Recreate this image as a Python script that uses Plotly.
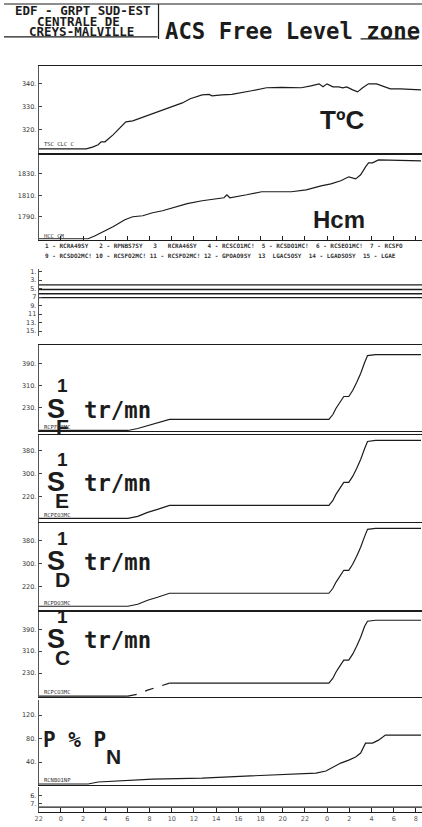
import plotly.graph_objects as go

W, H = 422, 827

# ---------------- data (hours from start of record, values in axis units) ----------------
HOUR_TICKS = list(range(0, 36, 2))
HOUR_LABELS = ["22", "0", "2", "4", "6", "8", "10", "12", "14", "16", "18", "20",
               "22", "0", "2", "4", "6", "8"]
X_END = 34.55

T_HOURS = [0, 4.29, 4.91, 5.36, 5.63, 5.98, 6.70, 7.86, 8.48, 10.27, 11.61, 12.95, 13.66,
           14.73, 15.36, 15.63, 16.52, 17.41, 19.2, 20.54, 21.88, 23.66, 24.55, 25.27,
           25.63, 25.98, 26.52, 27.05, 27.41, 27.77, 28.3, 28.75, 29.2, 29.73, 30.45,
           30.98, 31.7, 32.59, 34.46]
T_VALUES = [311.7, 311.7, 312.6, 313.5, 314.8, 314.8, 317.8, 323.5, 323.9, 327.0, 329.1,
            331.7, 333.5, 335.2, 335.4, 334.8, 335.2, 335.4, 337.0, 338.3, 338.5, 338.3,
            339.1, 340.0, 338.7, 340.0, 338.7, 338.7, 338.3, 338.7, 337.4, 336.5, 338.3,
            340.0, 340.0, 339.1, 337.8, 337.8, 337.4]

H_HOURS = [0, 4.46, 5.09, 5.80, 6.70, 7.77, 8.48, 9.38, 10.27, 11.16, 12.05, 13.39, 14.73,
           16.07, 16.70, 16.96, 17.23, 18.75, 20.09, 22.77, 24.11, 25.45, 26.34, 27.23,
           27.95, 28.57, 29.02, 29.46, 29.73, 30.09, 30.63, 34.46]
H_VALUES = [1769.5, 1769.5, 1772.3, 1776.0, 1780.7, 1787.2, 1790.0, 1790.9, 1793.7, 1795.6,
            1798.4, 1802.2, 1804.9, 1806.7, 1807.7, 1810.5, 1807.7, 1810.5, 1813.3, 1813.3,
            1815.1, 1818.8, 1820.7, 1823.5, 1827.2, 1825.3, 1829.1, 1836.5, 1840.2, 1840.2,
            1843.0, 1842.1]

DIGITAL_LEVELS = [4.1, 5.2, 6.2, 7.1]

S_HOURS = [0, 8.04, 8.93, 9.82, 10.71, 11.79, 26.16, 26.52, 26.79, 27.14, 27.5, 27.95,
           28.3, 28.66, 29.02, 29.38, 29.64, 30.36, 34.46]
SF_VALUES = [146.4, 146.4, 153.6, 164.5, 175.5, 186.4, 186.4, 204.5, 226.4, 248.2, 270.0,
             270.0, 291.8, 320.9, 353.6, 393.6, 419.1, 422.7, 422.7]
SE_VALUES = [143.5, 143.5, 150.4, 164.3, 174.8, 188.7, 188.7, 206.1, 226.9, 247.8, 268.7,
             268.7, 289.6, 317.4, 348.7, 387.0, 411.3, 414.8, 414.8]
SD_VALUES = [150.4, 150.4, 157.4, 171.3, 181.7, 195.7, 195.7, 213.0, 233.9, 254.8, 275.7,
             275.7, 296.5, 324.3, 355.7, 393.9, 418.3, 421.7, 421.7]
SC_VALUES = [146.4, 146.4, 153.6, 168.2, 179.1, 193.6, 193.6, 211.8, 233.6, 255.5, 277.3,
             277.3, 299.1, 328.2, 360.9, 400.9, 419.1, 422.7, 422.7]

P_HOURS = [0, 4.46, 5.36, 6.70, 10.27, 14.73, 19.20, 21.88, 25.0, 25.89, 26.61, 27.23,
           27.95, 28.57, 29.02, 29.46, 30.09, 30.63, 31.25, 34.46]
P_VALUES = [2.6, 2.6, 6.0, 7.7, 11.1, 12.8, 16.2, 17.9, 21.3, 24.7, 31.5, 38.3, 43.4, 48.5,
            55.3, 72.3, 72.3, 77.4, 86.0, 86.0]

LOWER_LEVEL = 7.5

LEGEND_ROW1 = ("1 - RCRA49SY   2 - RPNBS7SY   3   RCRA46SY   4 - RCSCO1MC!  "
               "5 - RCSDO1MC!  6 - RCSEO1MC!  7 - RCSFO")
LEGEND_ROW2 = ("9 - RCSDO2MC! 10 - RCSFO2MC! 11 - RCSFO2MC! 12 - GPOAO9SY  "
               "13  LGAC5OSY  14 - LGADSOSY  15 - LGAE")

# ---------------- layout helpers ----------------
def X(px):
    return px / W


def Y(py):
    return 1 - py / H


INK = "#1c1c1c"

# panel: (top px, bottom px, range, tickvals, ticktext, frame)
panels = [
    (65, 152, [310.0, 347.8], [320, 330, 340], ["320.", "330.", "340."], "box"),
    (154, 239, [1768.6, 1847.7], [1790, 1810, 1830], ["1790.", "1810.", "1830."], "box"),
    (268, 335, [16.06, 0.29], [1, 3, 5, 7, 9, 11, 13, 15],
     ["1.", "3.", "5.", "7", "9.", "11", "13.", "15."], "none"),
    (344, 431, [142.7, 459.1], [230, 310, 390], ["230.", "310.", "390."], "box"),
    (435, 522, [129.6, 432.2], [220, 300, 380], ["220.", "300.", "380."], "box"),
    (523, 610, [136.5, 439.1], [220, 300, 380], ["220.", "300.", "380."], "box"),
    (612, 697, [142.7, 451.8], [230, 310, 390], ["230.", "310.", "390."], "box"),
    (700, 785, [0.85, 145.5], [40, 80, 120], ["40.", "80.", "120."], "bottom"),
    (787, 812, [8.125, 4.875], [6, 7], ["6.", "7."], "axis"),
]

fig = go.Figure()
layout = dict(
    width=W, height=H, margin=dict(l=0, r=0, t=0, b=0),
    paper_bgcolor="white", plot_bgcolor="white", showlegend=False,
)

tickfont = dict(family="DejaVu Sans", size=6.5, color="#333")
for i, (top, bot, rng, tv, tt, frame) in enumerate(panels, start=1):
    xa = dict(domain=[X(35), 1.0], range=[0, X_END], showgrid=False, zeroline=False,
              showticklabels=False, anchor="y" if i == 1 else f"y{i}",
              linecolor=INK, linewidth=1)
    if i > 1:
        xa["matches"] = "x"
    if frame == "box":
        xa.update(showline=True, mirror=True)
    elif frame == "bottom":
        xa.update(showline=True)
    elif frame == "axis":
        xa.update(showline=True, ticks="inside", ticklen=4, tickcolor=INK,
                  tickvals=HOUR_TICKS, ticktext=HOUR_LABELS, showticklabels=True,
                  tickfont=dict(family="DejaVu Sans", size=6.5, color="#555"))
    else:
        xa.update(showline=False)
    if i == 2:
        xa.update(ticks="inside", ticklen=4, tickcolor=INK, tickvals=HOUR_TICKS)
    ya = dict(domain=[Y(bot), Y(top)], range=rng, showgrid=False, zeroline=False,
              anchor="x" if i == 1 else f"x{i}", showline=True, linecolor="#555",
              linewidth=1, ticks="inside", ticklen=3, tickcolor="#444",
              tickvals=tv, ticktext=tt, tickfont=tickfont)
    layout["xaxis" if i == 1 else f"xaxis{i}"] = xa
    layout["yaxis" if i == 1 else f"yaxis{i}"] = ya


def add(xs, ys, i, dash="solid", width=1.2):
    fig.add_trace(go.Scatter(
        x=xs, y=ys, mode="lines", line=dict(color=INK, width=width, dash=dash),
        xaxis="x" if i == 1 else f"x{i}", yaxis="y" if i == 1 else f"y{i}",
        hoverinfo="skip"))


add(T_HOURS, T_VALUES, 1)
add(H_HOURS, H_VALUES, 2)
for lv in DIGITAL_LEVELS:
    add([0, X_END], [lv, lv], 3, width=1.3)
add(S_HOURS, SF_VALUES, 4)
add(S_HOURS, SE_VALUES, 5)
add(S_HOURS, SD_VALUES, 6)
# S1C: first ramp drawn dashed like the trace in the record
add(S_HOURS[:2], SC_VALUES[:2], 7)
add(S_HOURS[1:6], SC_VALUES[1:6], 7, dash="dash")
add(S_HOURS[5:], SC_VALUES[5:], 7)
add(P_HOURS, P_VALUES, 8)
add([0, X_END], [LOWER_LEVEL, LOWER_LEVEL], 9)

# ---------------- text ----------------
ann = []


def text(s, x, y, size, family="DejaVu Sans Mono", weight="bold", xanchor="center",
         color=INK):
    ann.append(dict(text=s, x=X(x), y=Y(y), xref="paper", yref="paper",
                    xanchor=xanchor, yanchor="middle", showarrow=False, borderpad=0,
                    font=dict(family=family, size=size, color=color, weight=weight)))


# header
text("EDF - GRPT SUD-EST", 79, 10, 12.5)
text("CENTRALE DE", 75, 21, 12.5)
text("CREYS-MALVILLE", 78, 31, 12.5)
text("ACS Free Level zone", 162, 30, 22.3, xanchor="left")

# big panel labels
SANS = "Liberation Sans, Arial"
text("TºC", 341, 119, 26, family=SANS)
text("Hcm", 338, 219, 24, family=SANS)

for yc, sub in zip([408, 482, 561, 639], ["F", "E", "D", "C"]):
    text("S", 52, yc, 27, family=SANS)
    text("1", 59, yc - 23, 19, family=SANS)
    text(sub, 59, yc + 18, 21, family=SANS)
    text("tr/mn", 80, yc + 1, 22.3, xanchor="left")

text("P % P", 38, 740, 21, xanchor="left")
text("N", 111, 756, 21, family=SANS)

# small trace identifiers
small = dict(family="DejaVu Sans Mono", size=5.5, weight="normal", xanchor="left",
             color="#333")
text("TSC CLC C", 39, 143, **small)
text("HCC CM", 39, 235, **small)
text("RCPFO3MC", 39, 427, **small)
text("RCPEO3MC", 39, 515, **small)
text("RCPDO3MC", 39, 603, **small)
text("RCPCO3MC", 39, 692, **small)
text("RCNBO1NP", 39, 780, **small)

# legend rows
leg = dict(family="DejaVu Sans Mono", size=6.0, weight="bold", xanchor="left",
           color="#333")
text(LEGEND_ROW1, 40, 245, **leg)
text(LEGEND_ROW2, 40, 255, **leg)

layout["annotations"] = ann

# header rules
ln = dict(color=INK, width=1.2)
layout["shapes"] = [
    dict(type="line", xref="paper", yref="paper", x0=0, x1=1, y0=Y(3), y1=Y(3), line=ln),
    dict(type="line", xref="paper", yref="paper", x0=0, x1=X(155), y0=Y(36), y1=Y(36),
         line=ln),
    dict(type="line", xref="paper", yref="paper", x0=X(156), x1=X(156), y0=Y(3),
         y1=Y(38), line=ln),
    dict(type="line", xref="paper", yref="paper", x0=X(360), x1=X(417), y0=Y(38),
         y1=Y(38), line=ln),
]

fig.update_layout(**layout)
fig.write_html(
    "out.html",
    config={"displayModeBar": False, "staticPlot": True},
    post_script="document.body.style.margin='0';document.body.style.overflow='hidden';",
)
